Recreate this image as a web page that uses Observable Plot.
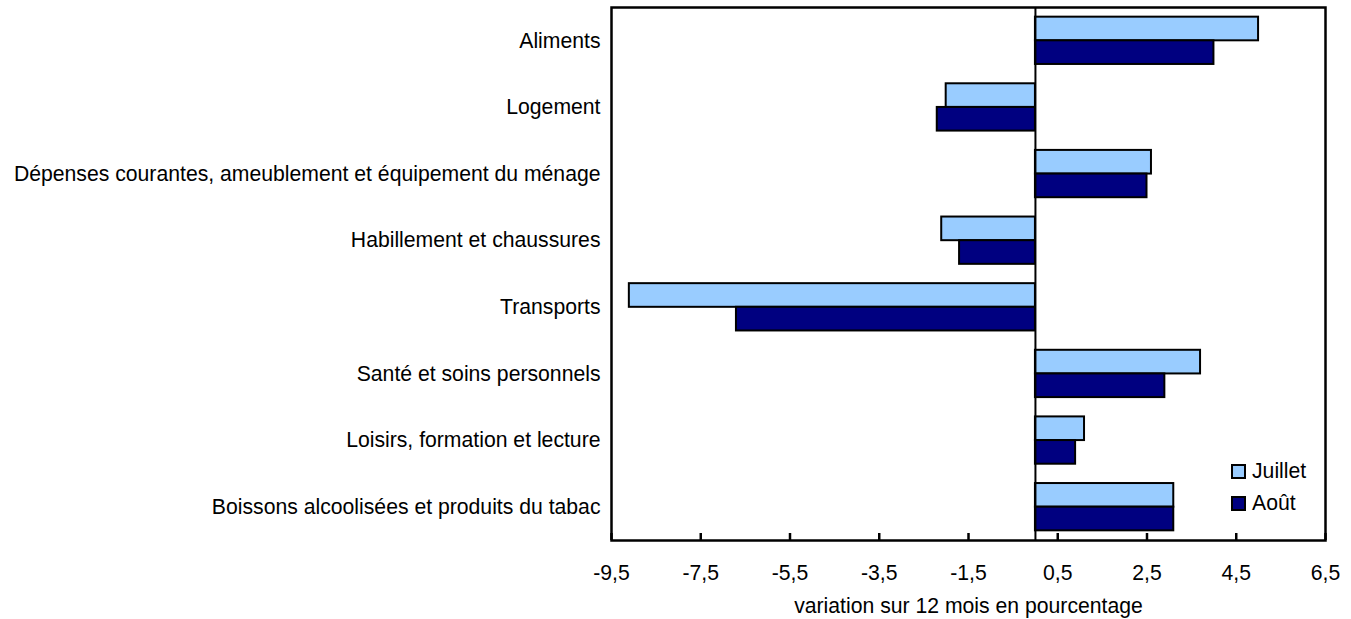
<!DOCTYPE html>
<html><head><meta charset="utf-8">
<script src="https://cdn.jsdelivr.net/npm/d3@7"></script>
<script src="https://cdn.jsdelivr.net/npm/@observablehq/plot@0.6"></script>
<style>
body{margin:0;background:#fff;font-family:"Liberation Sans",Arial,sans-serif;}
#wrap{position:relative;width:1351px;height:619px;}
.legend{position:absolute;left:1231px;top:455px;font-size:21.2px;color:#000}
.legend .item{display:flex;align-items:center;height:32px}
.legend .sw{box-sizing:border-box;width:15px;height:15px;border:2px solid #000;margin-right:6px}
</style></head><body><div id="wrap"></div>
<script>
const categories = [
  "Aliments",
  "Logement",
  "Dépenses courantes, ameublement et équipement du ménage",
  "Habillement et chaussures",
  "Transports",
  "Santé et soins personnels",
  "Loisirs, formation et lecture",
  "Boissons alcoolisées et produits du tabac"
];
const juillet = [5.0, -2.0, 2.6, -2.1, -9.1, 3.7, 1.1, 3.1];
const aout    = [4.0, -2.2, 2.5, -1.7, -6.7, 2.9, 0.9, 3.1];
const seriesNames = ["Juillet", "Août"];
const seriesColors = ["#99ccff", "#000080"];
const xTicks = [-9.5, -7.5, -5.5, -3.5, -1.5, 0.5, 2.5, 4.5, 6.5];
const xTitle = "variation sur 12 mois en pourcentage";

const W = 1351, H = 619, mT = 7, mB = 79, mL = 611, mR = 26;
const innerH = H - mT - mB;
const pIn = 0.29;
const step = innerH / categories.length;
const half = step * (1 - pIn) / 2;

const rowsJ = categories.map((c, i) => ({cat: c, value: juillet[i]}));
const rowsA = categories.map((c, i) => ({cat: c, value: aout[i]}));
const fmt = v => String(v).replace(".", ",");

const chart = Plot.plot({
  width: W, height: H, marginTop: mT, marginBottom: mB, marginLeft: mL, marginRight: mR,
  style: {fontFamily: '"Liberation Sans", Arial, sans-serif', fontSize: "21.2px", color: "#000", background: "#fff", overflow: "visible"},
  x: {domain: [xTicks[0], xTicks[xTicks.length - 1]], axis: null},
  y: {domain: categories, paddingInner: pIn, paddingOuter: pIn / 2, round: false},
  marks: [
    Plot.barX(rowsJ, {y: "cat", x: "value", fill: seriesColors[0], stroke: "#000", strokeWidth: 2, insetBottom: half}),
    Plot.barX(rowsA, {y: "cat", x: "value", fill: seriesColors[1], stroke: "#000", strokeWidth: 2, insetTop: half}),
    Plot.ruleX([0], {stroke: "#000", strokeWidth: 2}),
    Plot.frame({stroke: "#000", strokeWidth: 2.5}),
    Plot.ruleX(xTicks, {stroke: "#000", strokeWidth: 2.5, insetTop: innerH - 7}),
    Plot.text(xTicks, {x: d => d, text: fmt, frameAnchor: "bottom", dy: 24, lineAnchor: "top", fill: "#000"}),
    Plot.axisY({tickSize: 0, stroke: "none", tickPadding: 11, label: null}),
    Plot.text([xTitle], {frameAnchor: "bottom", dy: 72, lineAnchor: "bottom", fill: "#000"})
  ]
});
const wrap = document.getElementById("wrap");
wrap.appendChild(chart);
const legend = document.createElement("div");
legend.className = "legend";
seriesNames.forEach((n, i) => {
  const item = document.createElement("div");
  item.className = "item";
  const sw = document.createElement("span");
  sw.className = "sw";
  sw.style.background = seriesColors[i];
  const t = document.createElement("span");
  t.textContent = n;
  item.appendChild(sw); item.appendChild(t);
  legend.appendChild(item);
});
wrap.appendChild(legend);
</script></body></html>
